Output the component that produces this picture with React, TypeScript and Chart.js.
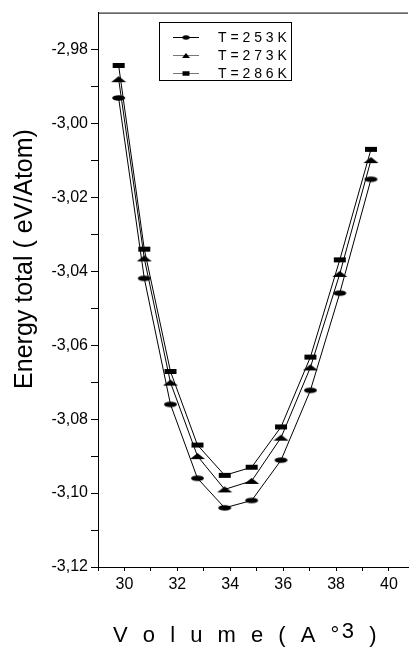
import { useEffect, useRef } from 'react';
import { Chart, registerables } from 'chart.js';

Chart.register(...registerables);

// ---- data ----
const VOLUME = [29.78, 30.75, 31.74, 32.76, 33.79, 34.81, 35.92, 37.03, 38.14, 39.32];
const E_253 = [-2.9931, -3.0419, -3.076, -3.096, -3.104, -3.102, -3.0911, -3.0722, -3.0459, -3.0151];
const E_273 = [-2.988, -3.0365, -3.0701, -3.09, -3.099, -3.0967, -3.085, -3.066, -3.0407, -3.0099];
const E_286 = [-2.9843, -3.034, -3.0671, -3.087, -3.0952, -3.093, -3.0821, -3.0632, -3.0369, -3.007];
const SERIES_LABELS = ['T = 2 5 3 K', 'T = 2 7 3 K', 'T = 2 8 6 K'];
const X_TICKS = [29, 30, 31, 32, 33, 34, 35, 36, 37, 38, 39, 40];
const X_LABELED = [30, 32, 34, 36, 38, 40];
const Y_TICKS = [-3.12, -3.11, -3.1, -3.09, -3.08, -3.07, -3.06, -3.05, -3.04, -3.03, -3.02, -3.01, -3.0, -2.99, -2.98];
const Y_LABELED = [-3.12, -3.1, -3.08, -3.06, -3.04, -3.02, -3.0, -2.98];
const X_TITLE_MAIN = 'V o l u m e ( A °';
const X_TITLE_SUP = '3';
const X_TITLE_END = ' )';
const Y_TITLE = 'Energy total ( eV/Atom)';

const FONT = "'Liberation Sans', Arial, sans-serif";

type Kind = 'ellipse' | 'triangle' | 'rect';

function makeMarker(kind: Kind, w: number, h: number): HTMLCanvasElement {
  const c = document.createElement('canvas');
  c.width = Math.ceil(w) + 2;
  c.height = Math.ceil(h) + 2;
  const ctx = c.getContext('2d')!;
  ctx.fillStyle = '#000';
  ctx.beginPath();
  const cx = c.width / 2;
  const cy = c.height / 2;
  if (kind === 'ellipse') {
    ctx.ellipse(cx, cy, w / 2, h / 2, 0, 0, Math.PI * 2);
  } else if (kind === 'triangle') {
    ctx.moveTo(cx, cy - h / 2);
    ctx.lineTo(cx + w / 2, cy + h / 2);
    ctx.lineTo(cx - w / 2, cy + h / 2);
    ctx.closePath();
  } else {
    ctx.rect(cx - w / 2, cy - h / 2, w, h);
  }
  ctx.fill();
  return c;
}

const near = (list: number[], v: number) => list.some((t) => Math.abs(t - v) < 1e-6);

export default function App() {
  const ref = useRef<HTMLCanvasElement | null>(null);

  useEffect(() => {
    if (!ref.current) return;
    const kinds: Kind[] = ['ellipse', 'triangle', 'rect'];
    const bigSizes = [
      [13, 5.5],
      [15, 6],
      [12, 5],
    ];
    const smallSizes = [
      [7, 4.5],
      [8, 5],
      [7, 4.5],
    ];
    const bigMarkers = kinds.map((k, i) => makeMarker(k, bigSizes[i][0], bigSizes[i][1]));
    const smallMarkers = kinds.map((k, i) => makeMarker(k, smallSizes[i][0], smallSizes[i][1]));
    const legendLineColors = ['#000', '#777', '#777'];
    const seriesValues = [E_253, E_273, E_286];

    const decorPlugin = {
      id: 'decor',
      afterDraw(chart: any) {
        const { ctx, chartArea } = chart;
        ctx.save();
        // top frame line
        ctx.strokeStyle = '#000';
        ctx.lineWidth = 1;
        ctx.beginPath();
        ctx.moveTo(chartArea.left, chartArea.top + 0.5);
        ctx.lineTo(chartArea.right, chartArea.top + 0.5);
        ctx.stroke();

        // legend box
        const bx = 159.5, by = 22.5, bw = 132, bh = 58;
        ctx.strokeStyle = '#000';
        ctx.lineWidth = 1;
        ctx.strokeRect(bx, by, bw, bh);
        const rows = [37, 55, 73];
        chart.data.datasets.forEach((ds: any, i: number) => {
          const y = rows[i];
          ctx.strokeStyle = legendLineColors[i];
          ctx.beginPath();
          ctx.moveTo(173, y + 0.5);
          ctx.lineTo(199, y + 0.5);
          ctx.stroke();
          const m = smallMarkers[i];
          ctx.drawImage(m, 186 - m.width / 2, y + 0.5 - m.height / 2);
          ctx.fillStyle = '#000';
          ctx.font = `14px ${FONT}`;
          ctx.textAlign = 'left';
          ctx.textBaseline = 'middle';
          ctx.fillText(ds.label, 218, y + 1);
        });

        // y title
        ctx.save();
        ctx.translate(32, 259);
        ctx.rotate(-Math.PI / 2);
        ctx.font = `25px ${FONT}`;
        ctx.fillStyle = '#000';
        ctx.textAlign = 'center';
        ctx.textBaseline = 'alphabetic';
        ctx.fillText(Y_TITLE, 0, 0);
        ctx.restore();

        // x title
        ctx.save();
        ctx.font = `22px ${FONT}`;
        (ctx as any).letterSpacing = '4.5px';
        ctx.fillStyle = '#000';
        ctx.textAlign = 'left';
        ctx.textBaseline = 'alphabetic';
        let x = 113;
        const base = 642;
        ctx.fillText(X_TITLE_MAIN, x, base);
        x += ctx.measureText(X_TITLE_MAIN).width - 2;
        ctx.fillText(X_TITLE_SUP, x, base - 4);
        x += ctx.measureText(X_TITLE_SUP).width;
        ctx.fillText(X_TITLE_END, x, base);
        ctx.restore();

        ctx.restore();
      },
    };

    const chart = new Chart(ref.current, {
      type: 'line',
      data: {
        datasets: seriesValues.map((vals, i) => ({
          label: SERIES_LABELS[i],
          data: VOLUME.map((v, j) => ({ x: v, y: vals[j] })),
          borderColor: '#000',
          backgroundColor: '#000',
          borderWidth: 1,
          pointStyle: bigMarkers[i] as any,
          pointRadius: 5,
          tension: 0,
          fill: false,
        })),
      },
      options: {
        animation: false,
        responsive: true,
        maintainAspectRatio: false,
        layout: { padding: { top: 8, left: 0, right: 0, bottom: 0 } },
        plugins: { legend: { display: false }, tooltip: { enabled: false }, title: { display: false } },
        scales: {
          x: {
            type: 'linear',
            min: 29,
            max: 40.72,
            afterBuildTicks: (s: any) => {
              s.ticks = X_TICKS.map((v) => ({ value: v }));
            },
            afterFit: (s: any) => {
              s.height = 83;
            },
            ticks: {
              autoSkip: false,
              maxRotation: 0,
              padding: 4,
              color: '#000',
              font: { size: 16, family: FONT },
              callback: (v: any) => (near(X_LABELED, Number(v)) ? String(v) : ''),
            },
            grid: { drawOnChartArea: false, drawTicks: true, tickLength: 4, color: '#000' },
            border: { display: true, color: '#000', width: 1 },
          },
          y: {
            type: 'linear',
            min: -3.12,
            max: -2.97,
            afterBuildTicks: (s: any) => {
              s.ticks = Y_TICKS.map((v) => ({ value: v }));
            },
            afterFit: (s: any) => {
              s.width = 98;
            },
            ticks: {
              autoSkip: false,
              padding: 3,
              color: '#000',
              font: { size: 16, family: FONT },
              callback: (v: any) =>
                near(Y_LABELED, Number(v)) ? Number(v).toFixed(2).replace('.', ',') : '',
            },
            grid: { drawOnChartArea: false, drawTicks: true, tickLength: 7, color: '#000' },
            border: { display: true, color: '#000', width: 1 },
          },
        },
      },
      plugins: [decorPlugin],
    });
    return () => chart.destroy();
  }, []);

  return (
    <div style={{ position: 'fixed', left: 0, top: 0, width: 414, height: 650, background: '#fff' }}>
      <canvas ref={ref} />
    </div>
  );
}
